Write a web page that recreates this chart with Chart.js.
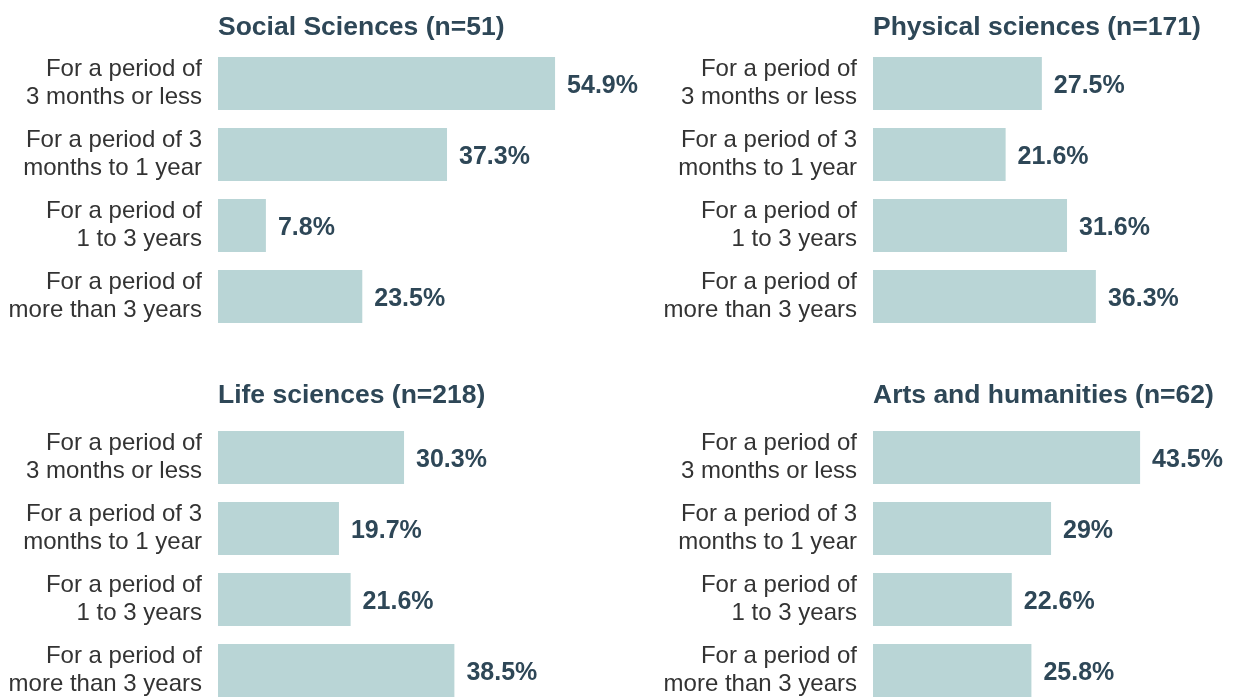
<!DOCTYPE html>
<html>
<head>
<meta charset="utf-8">
<script src="https://cdn.jsdelivr.net/npm/chart.js@4.4.1/dist/chart.umd.min.js"></script>
<style>
  html, body { margin: 0; padding: 0; background: #ffffff; overflow: hidden; }
  body { width: 1238px; height: 700px; position: relative; }
  canvas { position: absolute; }
</style>
</head>
<body>
<canvas id="c0" width="680" height="340" style="left:0px;top:0px"></canvas>
<canvas id="c1" width="619" height="340" style="left:619px;top:0px"></canvas>
<canvas id="c2" width="680" height="340" style="left:0px;top:374px"></canvas>
<canvas id="c3" width="619" height="340" style="left:619px;top:374px"></canvas>
<script>
// ---- data ----
const categories = [
  ['For a period of', '3 months or less'],
  ['For a period of 3', 'months to 1 year'],
  ['For a period of', '1 to 3 years'],
  ['For a period of', 'more than 3 years']
];
const titles = [
  'Social Sciences (n=51)',
  'Physical sciences (n=171)',
  'Life sciences (n=218)',
  'Arts and humanities (n=62)'
];
const socialSciences = [54.9, 37.3, 7.8, 23.5];
const physicalSciences = [27.5, 21.6, 31.6, 36.3];
const lifeSciences = [30.3, 19.7, 21.6, 38.5];
const artsHumanities = [43.5, 29, 22.6, 25.8];
const seriesValues = [socialSciences, physicalSciences, lifeSciences, artsHumanities];
const xMax = 55;

// ---- styling / layout ----
const FONT = '"Liberation Sans", Arial, Helvetica, sans-serif';
const BAR_COLOR = '#b9d5d6';
const DARK = '#2e4757';
const LABEL_COLOR = '#333333';
const PX_PER_UNIT = 6.14;
const panels = [
  { id: 'c0', axisW: 218, canvasW: 680, titleOff: 13 },
  { id: 'c1', axisW: 254, canvasW: 619, titleOff: 13 },
  { id: 'c2', axisW: 218, canvasW: 680, titleOff: 19 },
  { id: 'c3', axisW: 254, canvasW: 619, titleOff: 19 }
];

const titleAndValues = {
  id: 'titleAndValues',
  afterDatasetsDraw(chart, args, opts) {
    const ctx = chart.ctx;
    const area = chart.chartArea;
    ctx.save();
    // title
    ctx.font = 'bold 26.5px ' + FONT;
    ctx.fillStyle = DARK;
    ctx.textAlign = 'left';
    ctx.textBaseline = 'alphabetic';
    ctx.fillText(opts.title, area.left, area.top - opts.titleOff);
    // value labels
    ctx.font = 'bold 25px ' + FONT;
    ctx.textBaseline = 'middle';
    const meta = chart.getDatasetMeta(0);
    const data = chart.data.datasets[0].data;
    meta.data.forEach((bar, i) => {
      ctx.fillText(String(data[i]) + '%', bar.x + 12, bar.y + 3);
    });
    ctx.restore();
  }
};

panels.forEach((p, idx) => {
  const areaW = xMax * PX_PER_UNIT;
  const padRight = p.canvasW - p.axisW - areaW;
  new Chart(document.getElementById(p.id), {
    type: 'bar',
    data: {
      labels: categories,
      datasets: [{
        data: seriesValues[idx],
        backgroundColor: BAR_COLOR,
        borderWidth: 0,
        categoryPercentage: 1,
        barPercentage: 0.745
      }]
    },
    options: {
      indexAxis: 'y',
      responsive: false,
      animation: false,
      devicePixelRatio: 1,
      events: [],
      layout: { padding: { top: 48, bottom: 8, left: 0, right: padRight } },
      scales: {
        x: {
          display: false,
          min: 0,
          max: xMax
        },
        y: {
          grid: { display: false, drawTicks: false },
          border: { display: false },
          ticks: {
            padding: 16,
            color: LABEL_COLOR,
            font: { family: FONT, size: 24, lineHeight: 1.17 }
          },
          afterFit(scale) {
            scale.width = p.axisW;
            scale.paddingTop = 0;
            scale.paddingBottom = 0;
          }
        }
      },
      plugins: {
        legend: { display: false },
        tooltip: { enabled: false },
        title: { display: false },
        titleAndValues: { title: titles[idx], titleOff: p.titleOff }
      }
    },
    plugins: [titleAndValues]
  });
});
</script>
</body>
</html>
